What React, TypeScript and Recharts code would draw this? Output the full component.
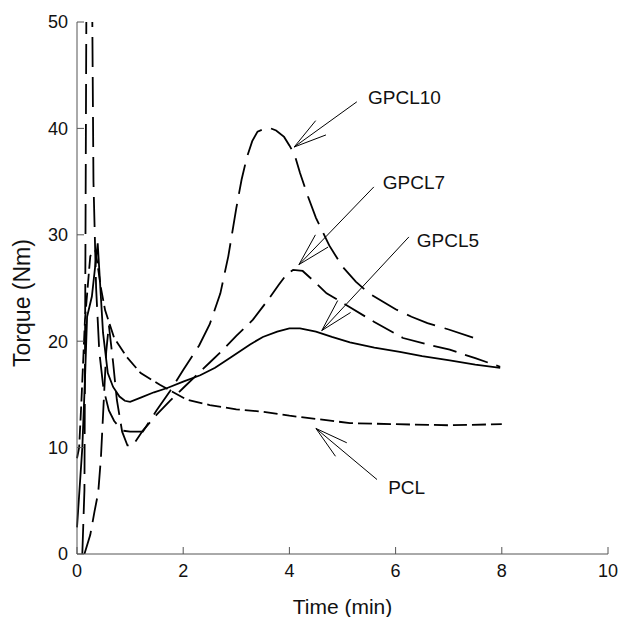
import React from "react";
import {
  LineChart,
  Line,
  XAxis,
  YAxis,
  ReferenceLine,
  ReferenceDot,
} from "recharts";

// time (min) vs torque (Nm)
const PCL = [
  { t: 0, v: 9 }, { t: 0.04, v: 10 }, { t: 0.08, v: 14 }, { t: 0.15, v: 22 },
  { t: 0.25, v: 28 }, { t: 0.35, v: 28.5 }, { t: 0.45, v: 25 }, { t: 0.53, v: 22.9 },
  { t: 0.7, v: 20.3 }, { t: 0.94, v: 18.5 }, { t: 1.2, v: 17 }, { t: 1.56, v: 15.9 },
  { t: 2.07, v: 14.5 }, { t: 2.5, v: 14 }, { t: 3.0, v: 13.6 }, { t: 3.45, v: 13.4 },
  { t: 4.0, v: 13.0 }, { t: 4.5, v: 12.7 }, { t: 5.14, v: 12.3 }, { t: 6.0, v: 12.2 },
  { t: 7.0, v: 12.1 }, { t: 8.0, v: 12.2 },
];

const GPCL5 = [
  { t: 0, v: 2.5 }, { t: 0.1, v: 10 }, { t: 0.15, v: 16.4 }, { t: 0.19, v: 22.3 },
  { t: 0.28, v: 24.2 }, { t: 0.39, v: 29.2 }, { t: 0.49, v: 20.8 }, { t: 0.58, v: 17 },
  { t: 0.68, v: 15.7 }, { t: 0.8, v: 14.8 }, { t: 0.9, v: 14.4 }, { t: 1.0, v: 14.3 },
  { t: 1.2, v: 14.7 }, { t: 1.45, v: 15.2 }, { t: 1.7, v: 15.6 }, { t: 2.0, v: 16.2 },
  { t: 2.32, v: 16.8 }, { t: 2.6, v: 17.5 }, { t: 2.9, v: 18.5 }, { t: 3.26, v: 19.7 },
  { t: 3.5, v: 20.4 }, { t: 3.77, v: 20.9 }, { t: 4.0, v: 21.2 }, { t: 4.2, v: 21.2 },
  { t: 4.5, v: 20.9 }, { t: 4.8, v: 20.4 }, { t: 5.14, v: 19.9 }, { t: 5.6, v: 19.4 },
  { t: 6.08, v: 19 }, { t: 6.5, v: 18.6 }, { t: 7.02, v: 18.2 }, { t: 7.5, v: 17.8 },
  { t: 7.97, v: 17.5 },
];

const GPCL7 = [
  { t: 0.14, v: 0 }, { t: 0.25, v: 1.8 }, { t: 0.33, v: 4 }, { t: 0.4, v: 5.8 },
  { t: 0.45, v: 9 }, { t: 0.5, v: 14 }, { t: 0.55, v: 19 }, { t: 0.6, v: 21.5 },
  { t: 0.68, v: 18 }, { t: 0.75, v: 14.5 }, { t: 0.85, v: 11.5 }, { t: 0.95, v: 10.2 },
  { t: 1.05, v: 10.2 }, { t: 1.24, v: 11.6 }, { t: 1.5, v: 13.1 }, { t: 1.75, v: 14.4 },
  { t: 2.0, v: 15.6 }, { t: 2.25, v: 16.8 }, { t: 2.5, v: 18 }, { t: 2.75, v: 19.2 },
  { t: 3.0, v: 20.5 }, { t: 3.31, v: 22 }, { t: 3.6, v: 23.9 }, { t: 3.8, v: 25.3 },
  { t: 3.95, v: 26.3 }, { t: 4.07, v: 26.7 }, { t: 4.25, v: 26.6 }, { t: 4.45, v: 25.7 },
  { t: 4.7, v: 24.5 }, { t: 5.14, v: 23.2 }, { t: 5.6, v: 21.8 }, { t: 6.14, v: 20.3 },
  { t: 6.6, v: 19.7 }, { t: 7.02, v: 19.2 }, { t: 7.5, v: 18.4 }, { t: 7.97, v: 17.6 },
];

const GPCL10 = [
  { t: 0.1, v: 0 }, { t: 0.14, v: 6 }, { t: 0.16, v: 30 }, { t: 0.18, v: 56 },
  { t: 0.28, v: 56 }, { t: 0.31, v: 35 }, { t: 0.36, v: 25 }, { t: 0.42, v: 19 },
  { t: 0.5, v: 15.5 }, { t: 0.6, v: 13.5 }, { t: 0.7, v: 12.5 }, { t: 0.85, v: 11.6 },
  { t: 1.0, v: 11.5 }, { t: 1.24, v: 11.5 }, { t: 1.5, v: 13.5 }, { t: 1.75, v: 15.3 },
  { t: 2.0, v: 17.3 }, { t: 2.3, v: 19.6 }, { t: 2.5, v: 21.6 }, { t: 2.7, v: 24.5 },
  { t: 2.85, v: 28 }, { t: 3.0, v: 32.5 }, { t: 3.1, v: 35.2 }, { t: 3.2, v: 37.3 },
  { t: 3.3, v: 38.8 }, { t: 3.4, v: 39.7 }, { t: 3.6, v: 40.1 }, { t: 3.75, v: 39.8 },
  { t: 3.9, v: 39.2 }, { t: 4.0, v: 38.4 }, { t: 4.1, v: 37.5 }, { t: 4.2, v: 35.8 },
  { t: 4.35, v: 33.6 }, { t: 4.5, v: 31.6 }, { t: 4.75, v: 29 }, { t: 5.0, v: 27 },
  { t: 5.25, v: 25.6 }, { t: 5.5, v: 24.5 }, { t: 6.0, v: 23 }, { t: 6.3, v: 22.3 },
  { t: 6.6, v: 21.7 }, { t: 7.0, v: 21.1 }, { t: 7.6, v: 20.1 },
];

const X_TICKS = [0, 2, 4, 6, 8, 10];
const Y_TICKS = [0, 10, 20, 30, 40, 50];

// arrow annotations: label anchor, tail of arrow, tip of arrow
const NOTES = [
  { name: "GPCL10", label: { x: 5.48, y: 42.9 }, tail: { x: 5.27, y: 42.5 }, tip: { x: 4.09, y: 38.25 } },
  { name: "GPCL7", label: { x: 5.76, y: 34.9 }, tail: { x: 5.59, y: 34.5 }, tip: { x: 4.18, y: 27.2 } },
  { name: "GPCL5", label: { x: 6.4, y: 29.5 }, tail: { x: 6.25, y: 29.8 }, tip: { x: 4.61, y: 21.0 } },
  { name: "PCL", label: { x: 5.86, y: 6.3 }, tail: { x: 5.65, y: 7.0 }, tip: { x: 4.5, y: 11.8 } },
];

const FONT = "'Liberation Sans', Arial, sans-serif";
const AXIS = "#555";
const PX_X = 53.1; // px per minute
const PX_Y = 10.64; // px per Nm

// two barbs of an open arrow head, in data units
function barbs(tail: any, tip: any) {
  const dx = (tail.x - tip.x) * PX_X;
  const dy = -(tail.y - tip.y) * PX_Y;
  const len = Math.hypot(dx, dy);
  const ux = dx / len;
  const uy = dy / len;
  return [1, -1].map((s) => {
    const a = (s * 15 * Math.PI) / 180;
    const rx = ux * Math.cos(a) - uy * Math.sin(a);
    const ry = ux * Math.sin(a) + uy * Math.cos(a);
    return { x: tip.x + (34 * rx) / PX_X, y: tip.y - (34 * ry) / PX_Y };
  });
}

const XTick = ({ x, y, payload }: any) => (
  <g>
    <line x1={x} y1={y} x2={x} y2={y - 7} stroke={AXIS} />
    <text x={x} y={y + 23} textAnchor="middle" fontSize={18} fontFamily={FONT} fill="#111">
      {payload.value}
    </text>
  </g>
);

const YTick = ({ x, y, payload }: any) => (
  <g>
    <line x1={x} y1={y} x2={x + 7} y2={y} stroke={AXIS} />
    <text x={x - 9} y={y} dy="0.35em" textAnchor="end" fontSize={18} fontFamily={FONT} fill="#111">
      {payload.value}
    </text>
  </g>
);

export default function App() {
  return (
    <div style={{ position: "absolute", left: 0, top: 0, background: "#fff" }}>
      <LineChart width={620} height={617} margin={{ top: 22, right: 12, bottom: 3, left: 17 }}>
        <XAxis
          type="number"
          dataKey="t"
          domain={[0, 10]}
          ticks={X_TICKS}
          tick={<XTick />}
          tickLine={false}
          tickSize={0}
          tickMargin={0}
          height={60}
          axisLine={{ stroke: AXIS }}
          label={{
            content: ({ viewBox }: any) => (
              <text
                x={viewBox.x + viewBox.width / 2}
                y={viewBox.y + 60}
                textAnchor="middle"
                fontSize={21}
                fontFamily={FONT}
                fill="#111"
              >
                Time (min)
              </text>
            ),
          }}
        />
        <XAxis xAxisId="top" orientation="top" type="number" domain={[0, 10]} tick={false} tickLine={false} height={0} axisLine={{ stroke: AXIS }} />
        <YAxis
          type="number"
          domain={[0, 50]}
          allowDataOverflow
          ticks={Y_TICKS}
          tick={<YTick />}
          tickLine={false}
          tickSize={0}
          tickMargin={0}
          width={60}
          axisLine={{ stroke: AXIS }}
          label={{
            content: () => (
              <text
                x={30}
                y={303}
                transform="rotate(-90 30 303)"
                textAnchor="middle"
                fontSize={23}
                fontFamily={FONT}
                fill="#111"
              >
                Torque (Nm)
              </text>
            ),
          }}
        />
        <YAxis yAxisId="right" orientation="right" domain={[0, 50]} tick={false} tickLine={false} width={0} axisLine={{ stroke: AXIS }} />

        <Line data={PCL} dataKey="v" type="linear" stroke="#000" strokeWidth={1.8} strokeDasharray="14 5" dot={false} isAnimationActive={false} />
        <Line data={GPCL5} dataKey="v" type="linear" stroke="#000" strokeWidth={1.8} dot={false} isAnimationActive={false} />
        <Line data={GPCL7} dataKey="v" type="linear" stroke="#000" strokeWidth={1.8} strokeDasharray="24 9" dot={false} isAnimationActive={false} />
        <Line data={GPCL10} dataKey="v" type="linear" stroke="#000" strokeWidth={1.8} strokeDasharray="30 10" dot={false} isAnimationActive={false} />

        {NOTES.map((n) => {
          const [b1, b2] = barbs(n.tail, n.tip);
          return (
            <React.Fragment key={n.name}>
              <ReferenceLine segment={[n.tail, n.tip]} stroke="#000" strokeWidth={1} />
              <ReferenceLine segment={[n.tip, b1]} stroke="#000" strokeWidth={1} />
              <ReferenceLine segment={[n.tip, b2]} stroke="#000" strokeWidth={1} />
              <ReferenceDot
                x={n.label.x}
                y={n.label.y}
                r={0}
                fill="none"
                stroke="none"
                label={{
                  content: ({ viewBox }: any) => (
                    <text x={viewBox.x} y={viewBox.y} dy="0.35em" fontSize={19} fontFamily={FONT} fill="#111">
                      {n.name}
                    </text>
                  ),
                }}
              />
            </React.Fragment>
          );
        })}
      </LineChart>
    </div>
  );
}
